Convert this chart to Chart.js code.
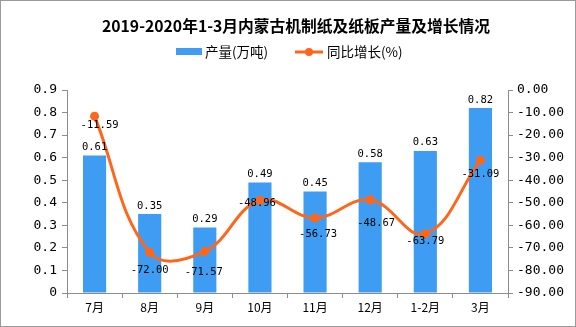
<!DOCTYPE html>
<html><head><meta charset="utf-8">
<script src="https://cdn.jsdelivr.net/npm/chart.js@4/dist/chart.umd.min.js"></script>
<style>html,body{margin:0;padding:0;background:#fff}#wrap{width:576px;height:327px;position:relative}</style>
</head><body><div id="wrap"><canvas id="c" width="576" height="327"></canvas></div>
<script>
const categories = ['7月','8月','9月','10月','11月','12月','1-2月','3月'];
const output = [0.61, 0.35, 0.29, 0.49, 0.45, 0.58, 0.63, 0.82];
const growth = [-11.59, -72.00, -71.57, -48.96, -56.73, -48.67, -63.79, -31.09];
const leftTicks = [0,0.1,0.2,0.3,0.4,0.5,0.6,0.7,0.8,0.9];
const rightTicks = [0,-10,-20,-30,-40,-50,-60,-70,-80,-90];
const titleText = '2019-2020年1-3月内蒙古机制纸及纸板产量及增长情况';
const barLabel = '产量(万吨)';
const lineLabel = '同比增长(%)';

const BLUE = 'rgb(62,157,242)';
const ORANGE = 'rgb(255,102,26)';
const AXIS = '#8c8c8c';
const MONO = '"DejaVu Sans Mono", "Liberation Mono", monospace';
const CJK = '"Noto Sans CJK SC", "Noto Sans", sans-serif';

// label nudges (style only)
const lineLabelDx = [5,0,-1,-3,3,6,0,0];
const lineLabelDy = [9,18,21,3,16,23,7,14];

function fitText(ctx, text, weight, size, maxSize, targetW) {
  ctx.font = weight + size + 'px ' + CJK;
  const w = ctx.measureText(text).width;
  const fs = Math.min(maxSize, size * targetW / w);
  ctx.font = weight + fs.toFixed(2) + 'px ' + CJK;
  return ctx.measureText(text).width;
}

const decor = {
  id: 'decor',
  afterDraw(chart) {
    const ctx = chart.ctx;
    ctx.save();
    // border
    ctx.strokeStyle = '#9a9a9a';
    ctx.lineWidth = 1;
    ctx.strokeRect(0.5, 0.5, 575, 326);
    // title spanning x 102..490
    ctx.fillStyle = '#000';
    const tw = fitText(ctx, titleText, 'bold ', 16, 17.5, 388);
    ctx.textAlign = 'left';
    ctx.textBaseline = 'middle';
    ctx.fillText(titleText, 296 - tw / 2, 26);
    // legend
    ctx.fillStyle = BLUE;
    ctx.fillRect(176, 48, 26, 7);
    ctx.fillStyle = '#000';
    const lw1 = fitText(ctx, barLabel, '', 13, 13.5, 72);
    ctx.fillText(barLabel, 205, 52);
    ctx.strokeStyle = ORANGE; ctx.lineWidth = 3;
    ctx.beginPath(); ctx.moveTo(295, 52); ctx.lineTo(323, 52); ctx.stroke();
    ctx.fillStyle = ORANGE;
    ctx.beginPath(); ctx.arc(309, 52, 4, 0, Math.PI*2); ctx.fill();
    ctx.fillStyle = '#000';
    fitText(ctx, lineLabel, '', 13, 13.5, 80);
    ctx.fillText(lineLabel, 327, 52);
    // data labels
    ctx.font = '10.5px ' + MONO;
    ctx.textAlign = 'center';
    const barMeta = chart.getDatasetMeta(0);
    barMeta.data.forEach((el, i) => {
      ctx.textBaseline = 'bottom';
      ctx.fillText(output[i].toFixed(2), el.x, el.y - 3);
    });
    const lineMeta = chart.getDatasetMeta(1);
    lineMeta.data.forEach((el, i) => {
      ctx.textBaseline = 'middle';
      ctx.fillText(growth[i].toFixed(2), el.x + lineLabelDx[i], el.y + lineLabelDy[i]);
    });
    ctx.restore();
  }
};

new Chart(document.getElementById('c'), {
  data: {
    labels: categories,
    datasets: [
      { type: 'bar', label: barLabel, data: output, backgroundColor: BLUE, yAxisID: 'y', barPercentage: 0.84, categoryPercentage: 0.5, order: 2 },
      { type: 'line', label: lineLabel, data: growth, borderColor: ORANGE, backgroundColor: ORANGE, borderWidth: 3, pointRadius: 4.5, pointBackgroundColor: ORANGE, pointBorderWidth: 0, tension: 0.4, yAxisID: 'y1', order: 1 }
    ]
  },
  options: {
    responsive: false,
    animation: false,
    layout: { padding: { top: 90, left: 0, right: 0, bottom: 0 } },
    plugins: { legend: { display: false }, title: { display: false }, tooltip: { enabled: false } },
    scales: {
      x: {
        offset: true,
        grid: { display: true, drawOnChartArea: false, offset: true, tickLength: 5, color: AXIS },
        border: { color: AXIS, width: 1 },
        ticks: { color: '#000', font: { family: CJK, size: 12 }, padding: 2, maxRotation: 0 },
        afterFit(s) { s.height = 34; }
      },
      y: {
        position: 'left', min: 0, max: 0.9,
        afterBuildTicks(s) { s.ticks = leftTicks.map(v => ({ value: v })); },
        grid: { drawOnChartArea: false, tickLength: 5, color: AXIS },
        border: { color: AXIS, width: 1 },
        ticks: { color: '#000', font: { family: MONO, size: 13 }, padding: 5, callback: v => (v === 0 ? '0' : v.toFixed(1)) },
        afterFit(s) { s.width = 67; }
      },
      y1: {
        position: 'right', min: -90, max: 0,
        afterBuildTicks(s) { s.ticks = rightTicks.map(v => ({ value: v })); },
        grid: { drawOnChartArea: false, tickLength: 5, color: AXIS },
        border: { color: AXIS, width: 1 },
        ticks: { color: '#000', font: { family: MONO, size: 13 }, padding: 4, callback: v => v.toFixed(2) },
        afterFit(s) { s.width = 68; }
      }
    }
  },
  plugins: [decor]
});
</script></body></html>
